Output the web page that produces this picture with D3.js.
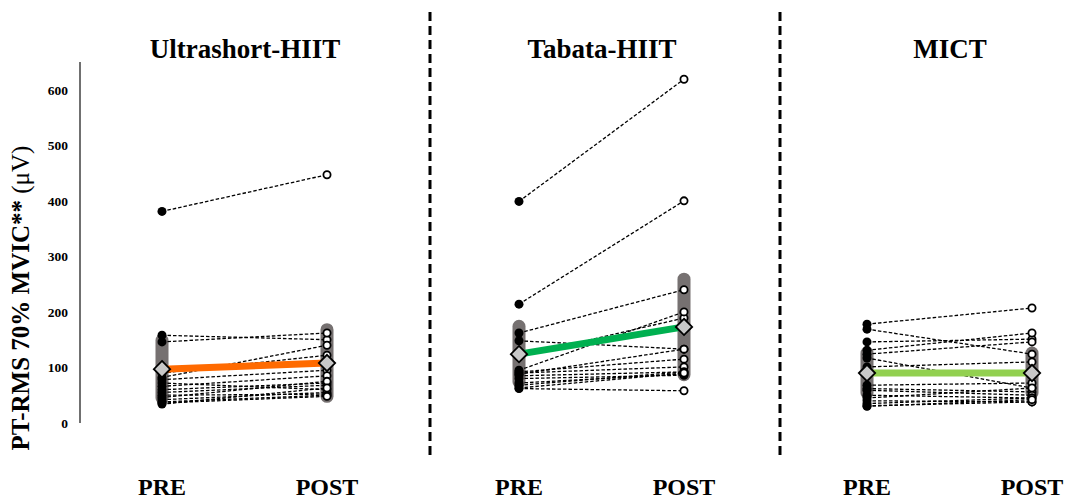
<!DOCTYPE html>
<html><head><meta charset="utf-8">
<script src="https://cdn.jsdelivr.net/npm/d3@7"></script>
<style>body{margin:0;background:#fff}svg{display:block}</style>
</head><body>
<svg id="chart" width="1071" height="500"></svg>
<script>
const groups = ["Ultrashort-HIIT", "Tabata-HIIT", "MICT"];
const times = ["PRE", "POST"];
const yTicks = [0, 100, 200, 300, 400, 500, 600];

const ultraPre  = [381, 158, 146, 90, 82, 78, 72, 66, 60, 55, 50, 46, 42, 38, 36, 34];
const ultraPost = [447, 150, 162, 122, 140, 95, 60, 85, 72, 68, 52, 75, 55, 50, 48, 63];
const tabataPre  = [399, 214, 162, 148, 120, 95, 92, 90, 88, 85, 80, 72, 68, 63, 62];
const tabataPost = [619, 400, 240, 133, 189, 200, 115, 101, 133, 92, 86, 88, 92, 90, 58];
const mictPre  = [178, 169, 146, 131, 124, 117, 101, 68, 62, 59, 50, 45, 40, 35, 31, 30];
const mictPost = [207, 124, 151, 162, 146, 63, 110, 72, 56, 50, 45, 63, 38, 45, 38, 42];

const groupMeans = [[97, 108], [124, 173], [90, 90]];
const groupSDs = [[52, 60], [50, 86], [36, 36]];
const meanColors = ["#FF6A00", "#00B050", "#92D050"];

const preData = [ultraPre, tabataPre, mictPre];
const postData = [ultraPost, tabataPost, mictPost];

const svg = d3.select("#chart");
const serif = "'Liberation Serif','Times New Roman',serif";

const y = d3.scaleLinear().domain([0, 650]).range([423, 62]);
const xGroup = d3.scaleOrdinal().domain(groups).range([245, 602, 950]);
const xTime = d3.scalePoint().domain(times).range([-83, 82]);

// separators
[430, 780].forEach(sx => {
  svg.append("line").attr("x1", sx).attr("x2", sx).attr("y1", 12).attr("y2", 460)
    .attr("stroke", "#000").attr("stroke-width", 3).attr("stroke-dasharray", "9,5");
});

// y axis
const yAxis = d3.axisLeft(y).tickValues(yTicks).tickSize(0).tickPadding(12);
const ga = svg.append("g").attr("transform", "translate(80,0)").call(yAxis);
ga.select(".domain").attr("stroke", "#404040").attr("stroke-width", 1.5).attr("d", "M0," + y(650) + "V" + y(0));
ga.selectAll("text").attr("font-family", serif).attr("font-weight", "bold").attr("font-size", 13.5).attr("fill", "#000");

// y title
const yt = svg.append("text").attr("transform", "translate(29,298) rotate(-90)")
  .attr("text-anchor", "middle").attr("font-family", serif).attr("font-size", 25).attr("fill", "#000");
yt.append("tspan").attr("font-weight", "bold").text("PT-RMS 70% MVIC** ");
yt.append("tspan").text("(μV)");

groups.forEach((g, gi) => {
  const cx = xGroup(g);
  const xPre = cx + xTime("PRE"), xPost = cx + xTime("POST");
  const pre = preData[gi], post = postData[gi];

  svg.append("text").attr("x", cx).attr("y", 58).attr("text-anchor", "middle")
    .attr("font-family", serif).attr("font-weight", "bold").attr("font-size", 27).text(g);

  times.forEach((t, ti) => {
    svg.append("text").attr("x", cx + xTime(t)).attr("y", 495).attr("text-anchor", "middle")
      .attr("font-family", serif).attr("font-weight", "bold").attr("font-size", 24).text(t);
    // SD bar
    const m = groupMeans[gi][ti], s = groupSDs[gi][ti];
    svg.append("line").attr("x1", cx + xTime(t)).attr("x2", cx + xTime(t))
      .attr("y1", y(m + s)).attr("y2", y(m - s))
      .attr("stroke", "#767171").attr("stroke-width", 13).attr("stroke-linecap", "round");
  });

  // individual lines
  svg.append("g").selectAll("line").data(pre).join("line")
    .attr("x1", xPre).attr("x2", xPost)
    .attr("y1", d => y(d)).attr("y2", (d, i) => y(post[i]))
    .attr("stroke", "#000").attr("stroke-width", 1.3).attr("stroke-dasharray", "3.5,2");

  // mean line
  svg.append("line").attr("x1", xPre).attr("x2", xPost)
    .attr("y1", y(groupMeans[gi][0])).attr("y2", y(groupMeans[gi][1]))
    .attr("stroke", meanColors[gi]).attr("stroke-width", 7);

  // points
  svg.append("g").selectAll("circle").data(pre).join("circle")
    .attr("cx", xPre).attr("cy", d => y(d)).attr("r", 4.5).attr("fill", "#000");
  svg.append("g").selectAll("circle").data(post).join("circle")
    .attr("cx", xPost).attr("cy", d => y(d)).attr("r", 3.6)
    .attr("fill", "#fff").attr("stroke", "#000").attr("stroke-width", 1.8);

  // mean diamonds
  const sym = d3.symbol().type(d3.symbolDiamond2).size(170);
  groupMeans[gi].forEach((m, ti) => {
    svg.append("path").attr("d", sym())
      .attr("transform", `translate(${cx + xTime(times[ti])},${y(m)})`)
      .attr("fill", "#C8C8C8").attr("stroke", "#000").attr("stroke-width", 1.8);
  });
});
</script>
</body></html>
